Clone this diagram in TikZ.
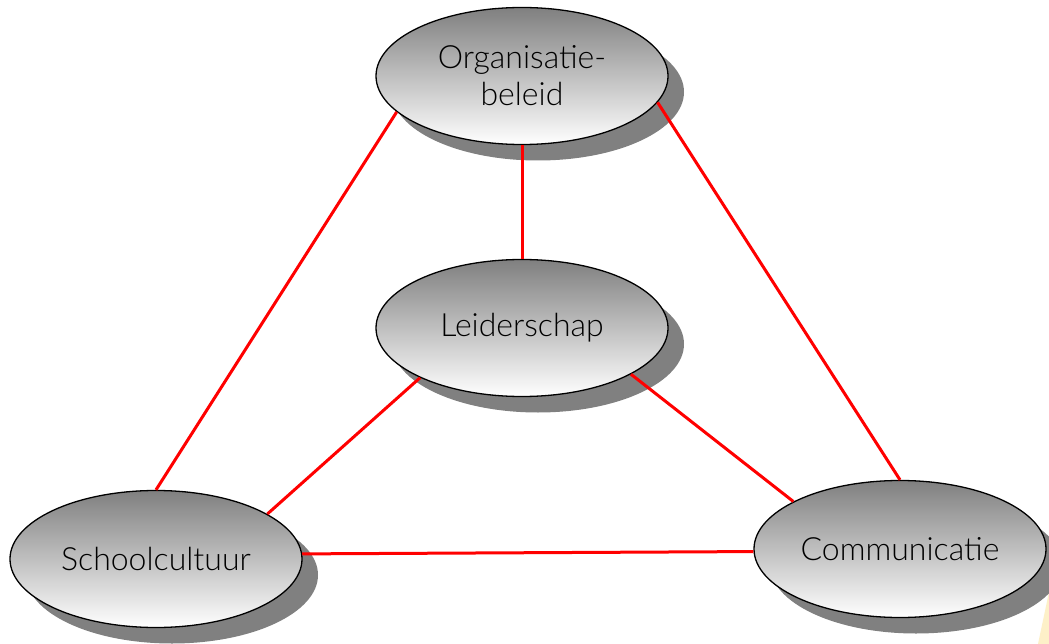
\documentclass[tikz,border=0pt]{standalone}
\usepackage{fontspec}
\setmainfont{Lato Light}
\usetikzlibrary{shapes.geometric,shadows}
\definecolor{cream}{RGB}{253,240,200}
\tikzset{
  blob/.style={ellipse,draw=black,line width=1.3pt,minimum width=292pt,minimum height=137pt,inner sep=0pt,
    top color=black!50,bottom color=white,align=center,font=\fontsize{32}{37}\selectfont,
    drop shadow={shadow xshift=16pt,shadow yshift=-16pt,fill=black!50,opacity=1}},
  link/.style={draw=red,line width=3pt}
}
\begin{document}
\begin{tikzpicture}[x=1pt,y=-1pt]
\clip (0,0) rectangle (1049,644);
\fill[white] (0,0) rectangle (1049,644);
\fill[cream] (1049,592) -- (1038,644) -- (1049,644) -- cycle;
\node[blob] (org) at (522,76) {Organisatie-\\beleid};
\node[blob] (lead) at (522,328) {Leiderschap};
\node[blob] (school) at (156,559) {Schoolcultuur};
\node[blob] (comm) at (900,549) {Communicatie};
\draw[link] (org.south) -- (lead.north);
\draw[link] (org.196.4) -- (school.north);
\draw[link] (org.-11.8) -- (comm.north);
\draw[link] (lead.206.1) -- (school.22.9);
\draw[link] (lead.-23.4) -- (comm.156.9);
\draw[link] (school.2.3) -- (comm.181.6);
\end{tikzpicture}
\end{document}
